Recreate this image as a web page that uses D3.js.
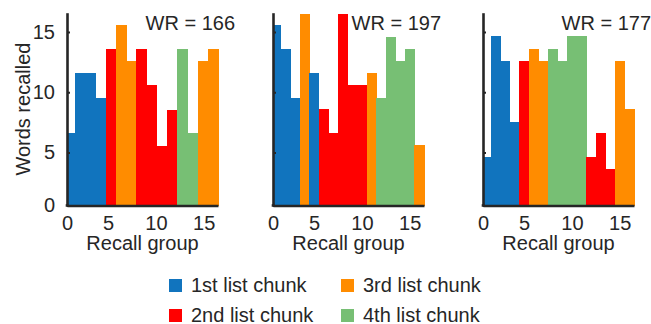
<!DOCTYPE html>
<html>
<head>
<meta charset="utf-8">
<script src="https://cdn.jsdelivr.net/npm/d3@7"></script>
<style>
  body { margin: 0; background: #fff; }
  text { font-family: Arial, "Liberation Sans", Helvetica, sans-serif; fill: #262626; }
</style>
</head>
<body>
<script>
// Words recalled per recall group, three participants
const chunkNames = ['1st list chunk', '2nd list chunk', '3rd list chunk', '4th list chunk']
const chunkColors = ['#1174be', '#ff0000', '#ff8c00', '#77bf74']

const wrLabels = ['WR = 166', 'WR = 197', 'WR = 177']

const recalled1 = [6.6, 11.6, 11.6, 9.5, 13.6, 15.6, 12.6, 13.6, 10.6, 5.5, 8.5, 13.6, 6.6, 12.6, 13.6]
const chunk1    = [1, 1, 1, 1, 2, 3, 3, 2, 2, 2, 2, 4, 4, 3, 3]

const recalled2 = [15.6, 13.6, 9.5, 16.5, 11.6, 8.6, 6.6, 16.5, 10.6, 10.6, 11.6, 9.5, 14.6, 12.6, 13.6, 5.6]
const chunk2    = [1, 1, 1, 3, 1, 2, 2, 2, 2, 2, 3, 4, 4, 4, 4, 3]

const recalled3 = [4.6, 14.7, 12.6, 7.5, 12.6, 13.6, 12.6, 13.6, 12.6, 14.7, 14.7, 4.6, 6.6, 3.6, 12.6, 8.6]
const chunk3    = [1, 1, 1, 1, 2, 3, 3, 4, 4, 4, 4, 2, 2, 2, 3, 3]

const binRange = [0.5, 16.5]     // histogram bins span this range
const xDomain = [0.7, 16.5]
const yDomain = [0.6, 16.6]
const xTicks = [xDomain[0], 5, 10, 15]
const yTicks = [yDomain[0], 5, 10, 15]
const tickLabels = ['0', '5', '10', '15']

const panels = [
  { values: recalled1, chunks: chunk1, label: wrLabels[0] },
  { values: recalled2, chunks: chunk2, label: wrLabels[1] },
  { values: recalled3, chunks: chunk3, label: wrLabels[2] }
]

const W = 651, H = 324
const panelLeft = [67, 273, 483]
const panelWidth = 151
const plotTop = 12.7, plotBottom = 205.5
const axisColor = '#262626'

const svg = d3.select('body').append('svg')
  .attr('width', W)
  .attr('height', H)

const y = d3.scaleLinear().domain(yDomain).range([plotBottom, plotTop])

panels.forEach((p, k) => {
  const left = panelLeft[k]
  const x = d3.scaleLinear().domain(xDomain).range([left, left + panelWidth])
  const g = svg.append('g')

  // bins evenly split binRange, one per value
  const n = p.values.length
  const binW = (binRange[1] - binRange[0]) / n
  const x0 = i => Math.max(x(binRange[0] + i * binW), x(xDomain[0]))
  g.selectAll('rect.bar')
    .data(p.values)
    .join('rect')
    .attr('class', 'bar')
    .attr('shape-rendering', 'crispEdges')
    .attr('x', (d, i) => x0(i))
    .attr('width', (d, i) => x(binRange[0] + (i + 1) * binW) - x0(i) + 0.5)
    .attr('y', d => y(Math.min(d, yDomain[1])))
    .attr('height', d => y(yDomain[0]) - y(Math.min(d, yDomain[1])))
    .attr('fill', (d, i) => chunkColors[p.chunks[i] - 1])

  // y axis, inward ticks, labels only on the first panel
  const yAxis = d3.axisLeft(y)
    .tickValues(yTicks)
    .tickSizeInner(-3)
    .tickSizeOuter(0)
    .tickPadding(12)
    .tickFormat((d, i) => k == 0 ? tickLabels[i] : '')
  const ya = g.append('g').attr('transform', `translate(${left},0)`).call(yAxis)

  const xAxis = d3.axisBottom(x)
    .tickValues(xTicks)
    .tickSize(0)
    .tickPadding(10)
    .tickFormat((d, i) => tickLabels[i])
  const xa = g.append('g').attr('transform', `translate(0,${plotBottom})`).call(xAxis)

  ;[ya, xa].forEach(a => {
    a.select('.domain').attr('stroke', axisColor).attr('stroke-width', 2.6)
    a.selectAll('.tick line').attr('stroke', axisColor).attr('stroke-width', 2)
    a.selectAll('.tick text').style('font-size', '20px').attr('fill', axisColor)
  })
  // join the two axis lines at the corner
  g.append('rect')
    .attr('x', left - 1.3).attr('y', plotBottom - 1.3)
    .attr('width', 2.6).attr('height', 2.6)
    .attr('fill', axisColor)

  g.append('text')
    .attr('x', (left + left + panelWidth) / 2)
    .attr('y', 250)
    .attr('text-anchor', 'middle')
    .style('font-size', '20px')
    .text('Recall group')

  g.append('text')
    .attr('x', left + 168)
    .attr('y', 30)
    .attr('text-anchor', 'end')
    .style('font-size', '20px')
    .text(p.label)
})

svg.append('text')
  .attr('transform', `translate(30,${(plotTop + plotBottom) / 2}) rotate(-90)`)
  .attr('text-anchor', 'middle')
  .style('font-size', '20px')
  .text('Words recalled')

// legend, two columns
const legend = svg.append('g')
const legX = [169, 341]
const legY = [279, 309]
chunkNames.forEach((name, i) => {
  const col = Math.floor(i / 2), row = i % 2
  legend.append('rect')
    .attr('x', legX[col]).attr('y', legY[row])
    .attr('width', 13).attr('height', 13)
    .attr('fill', chunkColors[i])
  legend.append('text')
    .attr('x', legX[col] + 22)
    .attr('y', legY[row] + 12.5)
    .style('font-size', '20px')
    .text(name)
})
</script>
</body>
</html>
